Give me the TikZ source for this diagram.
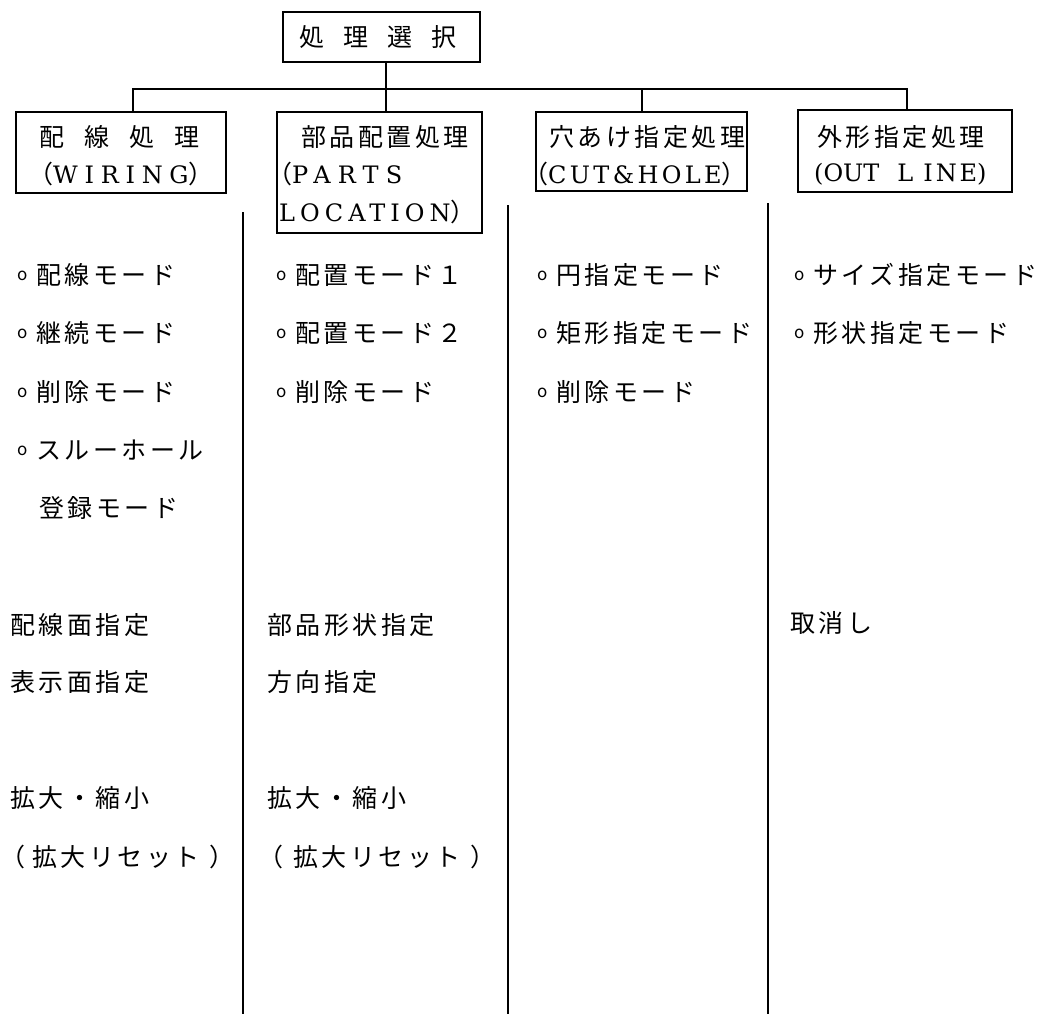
\documentclass[tikz,border=0pt]{standalone}
\usepackage{fontspec}
\newfontfamily\jp[LetterSpace=14]{Noto Sans CJK JP}
\newfontfamily\latf{DejaVu Serif}
\newcommand\bul{\raisebox{4pt}{\fontsize{17}{17}\selectfont o}\hspace{9pt}}
\newcommand\lsp[2]{{\addfontfeatures{LetterSpace=#1}#2}}
\newcommand\latsz{\latf\fontsize{24}{24}\selectfont}
\tikzset{
  box/.style={draw, line width=1.7pt, inner sep=0pt},
  ln/.style={line width=1.7pt},
  jt/.style={anchor=base west, inner sep=0pt, font=\jp\fontsize{25}{25}\selectfont},
  lt/.style={anchor=base west, inner sep=0pt, font=\latsz},
}
\begin{document}
\begin{tikzpicture}[x=1pt,y=-1pt]
\useasboundingbox (0,0) rectangle (1042,1014);
% boxes
\node[box, minimum width=197pt, minimum height=50pt] (top) at (381.5,37) {};
\node[box, minimum width=210pt, minimum height=81pt] (b1) at (121,152.5) {};
\node[box, minimum width=205pt, minimum height=121pt] (b2) at (379.5,172.5) {};
\node[box, minimum width=211pt, minimum height=79pt] (b3) at (641.5,151.5) {};
\node[box, minimum width=214pt, minimum height=82pt] (b4) at (905,151) {};
% bus
\coordinate (j1) at (133,89);
\coordinate (j2) at (386,89);
\coordinate (j3) at (642,89);
\coordinate (j4) at (907,89);
\draw[ln] (top.south -| j2) -- (j2);
\draw[ln] (b1.north -| j1) -- (j1) -- (j4) -- (b4.north -| j4);
\draw[ln] (j2) -- (b2.north -| j2);
\draw[ln] (j3) -- (b3.north -| j3);
% dividers
\coordinate (d1t) at (243,212); \coordinate (d1b) at (243,1014);
\coordinate (d2t) at (508,205); \coordinate (d2b) at (508,1014);
\coordinate (d3t) at (768,203); \coordinate (d3b) at (768,1014);
\draw[ln] (d1t) -- (d1b);
\draw[ln] (d2t) -- (d2b);
\draw[ln] (d3t) -- (d3b);
% box texts
\node[jt] (tt) at (299,46.5) {処\hspace{19pt}理\hspace{19pt}選\hspace{19pt}択};
\node[jt] (t1a) at (39,146.5) {配\hspace{20pt}線\hspace{20pt}処\hspace{20pt}理};
\node[jt] (t1b) at (28,183) {（{\latsz\lsp{28}{WIRING}}）};
\node[jt] (t2a) at (301,146.5) {部品配置処理};
\node[jt] (t2b) at (267,183) {（{\latsz\lsp{30}{PARTS}}};
\node[lt] (t2c) at (279,222) {\lsp{21}{LOCATION}{\jp\fontsize{25}{25}\selectfont）}};
\node[jt] (t3a) at (549,146.5) {穴あけ指定処理};
\node[jt] (t3b) at (523,183) {（{\latsz\lsp{14}{CUT\&HOLE}}）};
\node[jt] (t4a) at (817,146.5) {外形指定処理};
\node[lt] (t4b) at (814,182) {(OUT\hspace{18pt}L\hspace{10pt}\lsp{12}{INE})};
% column 1
\node[jt] (c1r1) at (17,284.5) {\bul 配線モード};
\node[jt] (c1r2) at (17,342.5) {\bul 継続モード};
\node[jt] (c1r3) at (17,401.5) {\bul 削除モード};
\node[jt] (c1r4) at (17,459.5) {\bul スルーホール};
\node[jt] (c1r5) at (39,517.5) {登録モード};
\node[jt] (c1s1) at (10,634.5) {配線面指定};
\node[jt] (c1s2) at (10,691.5) {表示面指定};
\node[jt] (c1s3) at (10,807.5) {拡大・縮小};
\node[jt] (c1s4) at (0,866.5) {（\hspace{7pt}拡大リセット\hspace{10pt}）};
% column 2
\node[jt] (c2r1) at (276,284.5) {\bul 配置モード１};
\node[jt] (c2r2) at (276,342.5) {\bul 配置モード２};
\node[jt] (c2r3) at (276,401.5) {\bul 削除モード};
\node[jt] (c2s1) at (267,634.5) {部品形状指定};
\node[jt] (c2s2) at (267,691.5) {方向指定};
\node[jt] (c2s3) at (267,807.5) {拡大・縮小};
\node[jt] (c2s4) at (258,866.5) {（\hspace{10pt}拡大リセット\hspace{10pt}）};
% column 3
\node[jt] (c3r1) at (537,284.5) {\bul 円指定モード};
\node[jt] (c3r2) at (537,342.5) {\bul 矩形指定モード};
\node[jt] (c3r3) at (537,401.5) {\bul 削除モード};
% column 4
\node[jt] (c4r1) at (794,284.5) {\bul サイズ指定モード};
\node[jt] (c4r2) at (794,342.5) {\bul 形状指定モード};
\node[jt] (c4s1) at (790,632) {取消し};
\end{tikzpicture}
\end{document}
